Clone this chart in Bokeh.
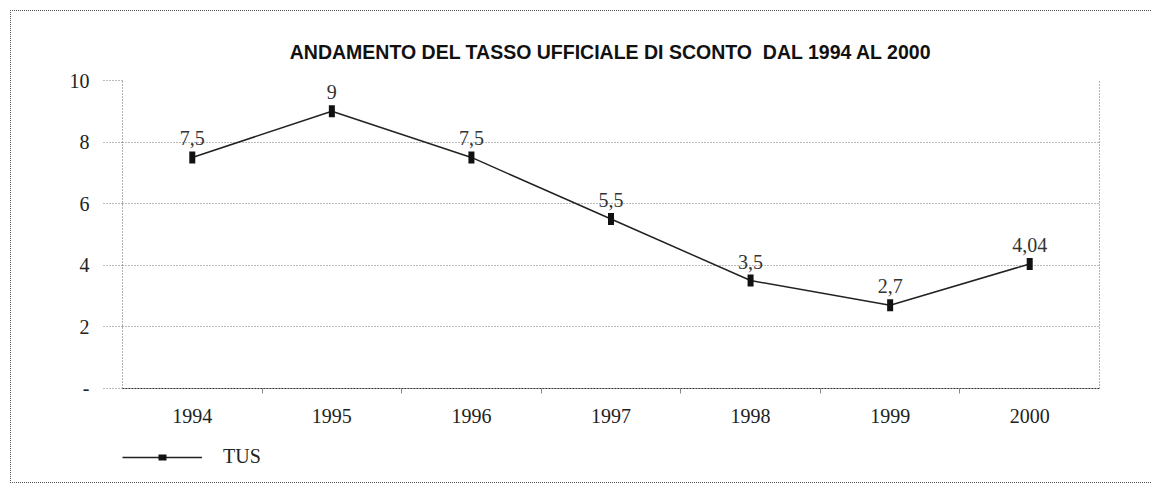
from bokeh.plotting import figure
from bokeh.models import ColumnDataSource, FixedTicker, Legend, LegendItem, Range1d, LinearAxis
from bokeh.embed import file_html
from bokeh.resources import INLINE

years = [1994, 1995, 1996, 1997, 1998, 1999, 2000]
tus = [7.5, 9.0, 7.5, 5.5, 3.5, 2.7, 4.04]
labels = ["7,5", "9", "7,5", "5,5", "3,5", "2,7", "4,04"]
y_ticks = [0, 2, 4, 6, 8, 10]
y_tick_labels = {0: "-"}
title_text = "ANDAMENTO DEL TASSO UFFICIALE DI SCONTO\u00a0 DAL 1994 AL 2000"
series_name = "TUS"

src = ColumnDataSource(dict(x=years, y=tus, lab=labels))

y_lo, y_hi = y_ticks[0], y_ticks[-1]

p = figure(frame_width=977, frame_height=397, output_backend="svg", toolbar_location=None,
           x_range=Range1d(years[0] - 0.5, years[-1] + 0.5), y_range=Range1d(-2.9, y_hi),
           min_border_left=111, min_border_right=52, min_border_top=69, min_border_bottom=5)
p.styles = {"border-left": "1px dotted #555", "border-top": "1px dotted #555",
            "border-bottom": "1px dotted #555", "margin-left": "10px", "margin-top": "10px"}

p.title.text = title_text
p.title.align = "center"
p.title.text_font = "Liberation Sans"
p.title.text_font_size = "19.5px"
p.title.text_font_style = "bold"
p.title.text_color = "#111111"
p.title.standoff = 36

p.outline_line_color = None
p.background_fill_color = "white"
p.border_fill_color = "white"

# grid
p.xgrid.grid_line_color = None
p.ygrid.grid_line_color = "#777777"
p.ygrid.grid_line_dash = "1 2"
p.ygrid.ticker = FixedTicker(ticks=y_ticks)

# y axis (left), its line forms the left edge of the plot area
p.yaxis.ticker = FixedTicker(ticks=y_ticks)
p.yaxis.bounds = (y_lo, y_hi)
p.yaxis.major_label_overrides = y_tick_labels
p.yaxis.axis_line_color = "#666666"
p.yaxis.axis_line_dash = "1 2"
p.yaxis.major_tick_in = 0
p.yaxis.major_tick_out = 19
p.yaxis.major_tick_line_color = "#777777"
p.yaxis.major_tick_line_dash = "1 2"
p.yaxis.minor_tick_line_color = None
p.yaxis.major_label_standoff = 14
p.yaxis.major_label_text_font = "Liberation Serif"
p.yaxis.major_label_text_font_size = "20px"
p.yaxis.major_label_text_color = "#222222"

# right edge of the plot area
right_axis = LinearAxis(ticker=FixedTicker(ticks=[]), bounds=(y_lo, y_hi),
                        axis_line_color="#666666", axis_line_dash="1 2",
                        major_tick_line_color=None, minor_tick_line_color=None,
                        major_label_text_font_size="0px")
p.add_layout(right_axis, "right")

# x axis at y = 0
p.xaxis.fixed_location = y_lo
p.xaxis.ticker = FixedTicker(ticks=years, minor_ticks=[y + 0.5 for y in years[:-1]])
p.xaxis.axis_line_color = "#333333"
p.xaxis.axis_line_dash = "2 1"
p.xaxis.major_tick_line_color = None
p.xaxis.major_tick_out = 0
p.xaxis.major_tick_in = 0
p.xaxis.minor_tick_in = 0
p.xaxis.minor_tick_out = 5
p.xaxis.minor_tick_line_color = "#888888"
p.xaxis.major_label_standoff = 16
p.xaxis.major_label_text_font = "Liberation Serif"
p.xaxis.major_label_text_font_size = "20px"
p.xaxis.major_label_text_color = "#222222"

line = p.line("x", "y", source=src, line_color="#222222", line_width=1.5)
marks = p.scatter("x", "y", source=src, marker="dash", angle=1.5708, size=12,
                  line_color="#111111", line_width=6)
p.text("x", "y", text="lab", source=src, text_align="center", text_baseline="bottom",
       y_offset=-12, text_font="Liberation Serif", text_font_size="20px", text_color="#333333")

legend = Legend(items=[LegendItem(label=series_name, renderers=[line, marks])],
                location=(0, 9), orientation="horizontal",
                glyph_width=80, glyph_height=20, label_standoff=21,
                label_text_font="Liberation Serif", label_text_font_size="20px",
                label_text_color="#222222", border_line_color=None,
                background_fill_alpha=0, margin=0, padding=0)
p.add_layout(legend)

open("out.html", "w").write(file_html(p, INLINE))
